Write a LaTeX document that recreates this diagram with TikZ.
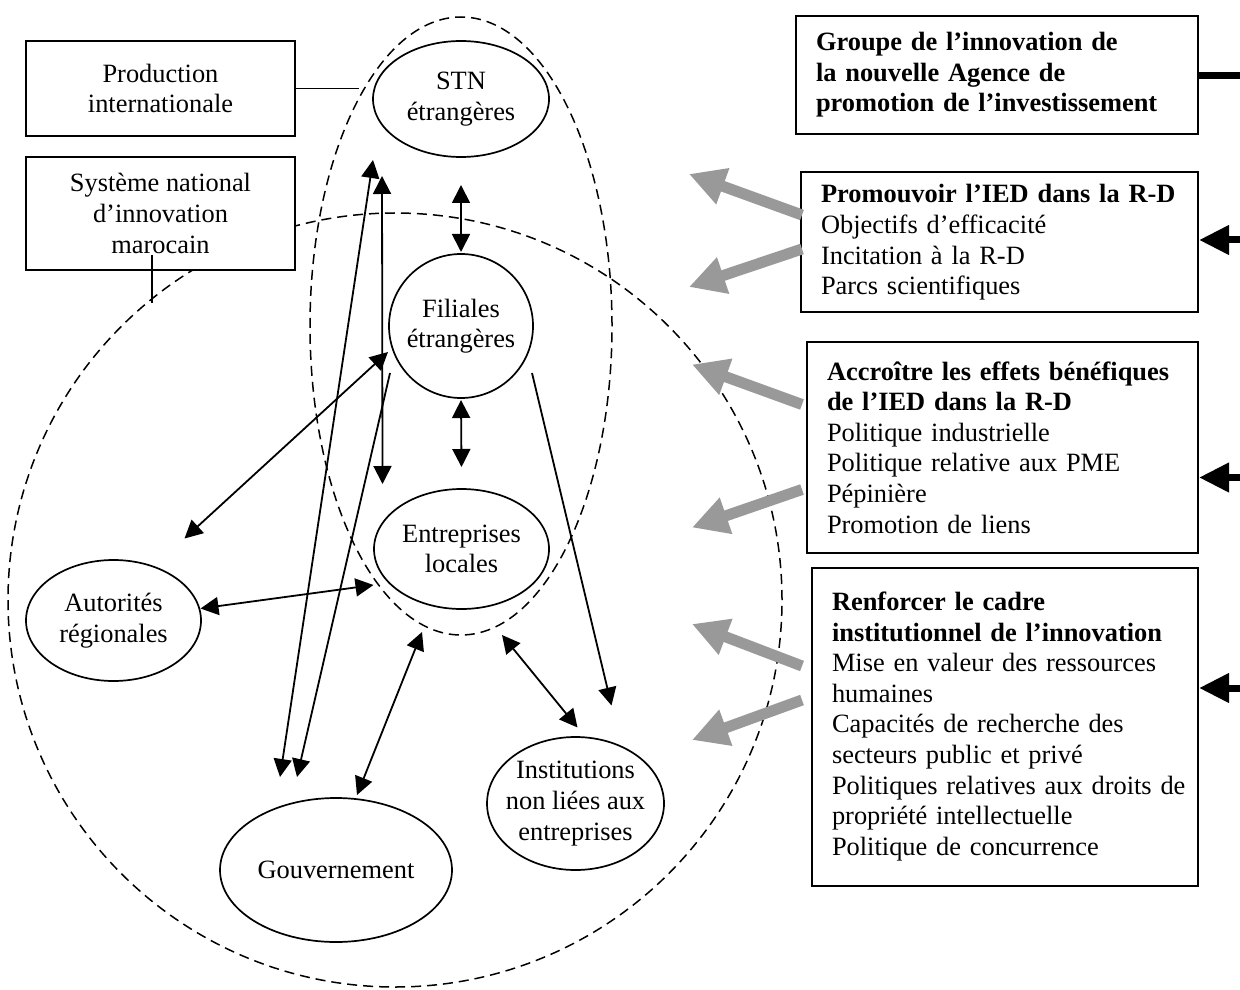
\documentclass[tikz,border=0pt]{standalone}
\usepackage{fontspec}
\setmainfont{Liberation Serif}
\usepackage{tikz}
\usetikzlibrary{arrows.meta, shapes.geometric}

\begin{document}
\begin{tikzpicture}[
    x=0.5pt, y=-0.5pt,
    every node/.style={font=\fontsize{13.2}{15.3}\selectfont},
    actor/.style={
        ellipse, draw, line width=0.85pt, align=center, inner sep=-5pt
    },
    region/.style={
        ellipse, draw, line width=0.75pt, dash pattern=on 5pt off 3pt,
        inner sep=0pt
    },
    frame/.style={
        rectangle, draw, line width=1pt, fill=white, align=center
    },
    policy/.style={
        rectangle, draw, line width=1pt, fill=white, align=left,
        inner xsep=10pt
    },
    link/.style={line width=0.9pt},
    dbl/.style={link, {Triangle[length=9pt,width=9pt]}-{Triangle[length=9pt,width=9pt]}},
    one/.style={link, -{Triangle[length=9pt,width=9pt]}},
    lever/.style={black!40, line width=5.5pt, -{Triangle[length=18pt,width=18pt]}},
    feed/.style={line width=3.5pt, -{Triangle[length=15pt,width=14pt]}}
]
\useasboundingbox (0,0) rectangle (1240,989);

% Regions
\node[region, minimum width=387pt, minimum height=387pt] (nis) at (395,600) {};
\node[region, minimum width=151pt, minimum height=309pt] (foreign) at (461,326) {};

% Left boxes
\node[frame, minimum width=134.5pt, minimum height=47.5pt] (prod) at (160.5,88.5) {
    Production\\internationale
};
\node[frame, minimum width=134.5pt, minimum height=56.5pt] (sys) at (160.5,213.5) {
    Système national\\d’innovation\\marocain
};

% Actors
\node[actor, minimum width=88pt, minimum height=58pt] (stn) at (461,99) {STN\\étrangères};
\node[actor, circle, minimum size=72pt] (fil) at (461,326) {Filiales\\étrangères};
\node[actor, minimum width=87.5pt, minimum height=60pt] (ent) at (461.5,549) {Entreprises\\locales};
\node[actor, minimum width=87.5pt, minimum height=60.5pt] (aut) at (113.5,620.5) {Autorités\\régionales};
\node[actor, minimum width=116pt, minimum height=72pt] (gouv) at (336,870) {Gouvernement};
\node[actor, minimum width=88.5pt, minimum height=66.5pt] (inst) at (575.5,803.5) {
    Institutions\\non liées aux\\entreprises
};

% Policy boxes
\node[policy, text width=181pt, minimum height=59pt] (groupe) at (997,75) {
    \textbf{Groupe de l’innovation de}\\
    \textbf{la nouvelle Agence de}\\
    \textbf{promotion de l’investissement}
};
\node[policy, text width=178.5pt, minimum height=70pt] (promo) at (999.5,242.5) {
    \textbf{Promouvoir l’IED dans la R-D}\\
    Objectifs d’efficacité\\
    Incitation à la R-D\\
    Parcs scientifiques
};
\node[policy, text width=175.5pt, minimum height=105.5pt] (accr) at (1002.5,447.5) {
    \textbf{Accroître les effets bénéfiques}\\
    \textbf{de l’IED dans la R-D}\\
    Politique industrielle\\
    Politique relative aux PME\\
    Pépinière\\
    Promotion de liens
};
\node[policy, text width=173pt, minimum height=159pt] (renf) at (1005,726.5) {
    \textbf{Renforcer le cadre}\\
    \textbf{institutionnel de l’innovation}\\
    Mise en valeur des ressources\\
    humaines\\
    Capacités de recherche des\\
    secteurs public et privé\\
    \mbox{Politiques relatives aux droits de}\\
    propriété intellectuelle\\
    Politique de concurrence
};

% Box ties
\draw[link] (prod.east) -- ([xshift=31.5pt]prod.east);
\draw[link] ([shift={(-8.5,41.5)}]sys.center) -- ([shift={(-8.5,89.5)}]sys.center);

% Links between actors
\draw[dbl] ([shift={(0,86)}]stn.center) -- ([shift={(0,-74)}]fil.center);
\draw[dbl] ([shift={(0,74)}]fil.center) -- ([shift={(0,-82)}]ent.center);
\draw[dbl] ([shift={(-79,77)}]stn.center) -- ([shift={(-79,-65)}]ent.center);
\draw[dbl] ([shift={(-88,61)}]stn.center) -- ([shift={(-56,-93)}]gouv.center);
\draw[one] ([shift={(-71,47)}]fil.center) -- ([shift={(-39,-93)}]gouv.center);
\draw[dbl] ([shift={(-73,26)}]fil.center) -- ([shift={(71,-82)}]aut.center);
\draw[dbl] ([shift={(87,-12)}]aut.center) -- ([shift={(-88,36)}]ent.center);
\draw[dbl] ([shift={(21,-75)}]gouv.center) -- ([shift={(-39,306)}]foreign.center);
\draw[dbl] ([shift={(41,309)}]foreign.center) -- ([shift={(2,-76)}]inst.center);
\draw[one] ([shift={(71,47)}]fil.center) -- ([shift={(36,-98)}]inst.center);

% Policy levers
\draw[lever] ([shift={(2,-27.5)}]promo.west) -- ([shift={(-111,-68.5)}]promo.west);
\draw[lever] ([shift={(2,6.5)}]promo.west) -- ([shift={(-111,44.5)}]promo.west);
\draw[lever] ([shift={(-4,-43)}]accr.west) -- ([shift={(-114,-83)}]accr.west);
\draw[lever] ([shift={(-4,42)}]accr.west) -- ([shift={(-114,80)}]accr.west);
\draw[lever] ([shift={(-9,-60.5)}]renf.west) -- ([shift={(-119,-102.5)}]renf.west);
\draw[lever] ([shift={(-9,-26.5)}]renf.west) -- ([shift={(-119,13.5)}]renf.west);

% Agency feeds (cut at the right edge)
\draw[line width=3.5pt] ([shift={(0,1)}]groupe.east) -- ([shift={(44,1)}]groupe.east);
\draw[feed] ([shift={(44,-2.5)}]promo.east) -- ([shift={(0,-2.5)}]promo.east);
\draw[feed] ([shift={(44,30)}]accr.east) -- ([shift={(0,30)}]accr.east);
\draw[feed] ([shift={(44,-38.5)}]renf.east) -- ([shift={(0,-38.5)}]renf.east);

\end{tikzpicture}
\end{document}
